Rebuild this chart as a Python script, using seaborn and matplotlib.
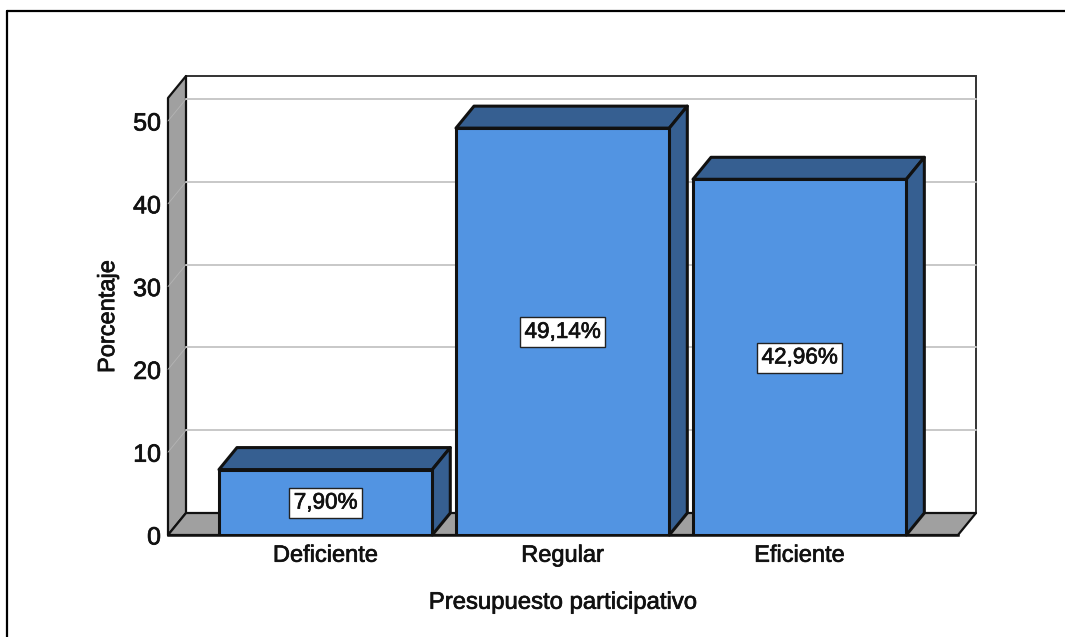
import seaborn as sns
import matplotlib.pyplot as plt
import matplotlib.patheffects as pe
import pandas as pd
from matplotlib.patches import Polygon, Rectangle

categories = ['Deficiente', 'Regular', 'Eficiente']
percentages = [7.90, 49.14, 42.96]
bar_labels = ['7,90%', '49,14%', '42,96%']
y_ticks = [0, 10, 20, 30, 40, 50]

W, H = 1065, 637
FRONT = '#5294E2'
DARK = '#365F91'
WALL = '#A0A0A0'
GRID = '#C8C8C8'
EDGE = '#111111'

sns.set_style('white')
plt.rcParams['font.family'] = ['Liberation Sans', 'DejaVu Sans']

df = pd.DataFrame({'cat': categories, 'pct': percentages})

# the reference text looks slightly heavy from scaling, a thin stroke gets close
heavy = [pe.withStroke(linewidth=0.5, foreground='#111111')]

fig = plt.figure(figsize=(W / 100, H / 100), dpi=100)
# front plane of the SPSS style box
left, right, bottom, top = 168, 958, 535, 98
ax = fig.add_axes([left / W, 1 - bottom / H, (right - left) / W, (bottom - top) / H])

sns.barplot(data=df, x='cat', y='pct', color=FRONT, saturation=1, width=0.9,
            edgecolor=EDGE, linewidth=2.2, ax=ax, zorder=5)
ax.set_xlim(-0.665, 2.668)
ax.set_ylim(0, 52.78)

# depth of the box in data units
dx = 18 / (right - left) * (ax.get_xlim()[1] - ax.get_xlim()[0])
dy = 22 / (bottom - top) * ax.get_ylim()[1]
x0, x1 = ax.get_xlim()
ymax = ax.get_ylim()[1]


def poly(pts, fc, ec=EDGE, lw=1.6, z=2):
    ax.add_patch(Polygon(pts, closed=True, facecolor=fc, edgecolor=ec, linewidth=lw,
                         zorder=z, clip_on=False, joinstyle='round'))


# back wall, left wall, floor
ax.add_patch(Rectangle((x0 + dx, dy), x1 - x0, ymax, facecolor='white', edgecolor='#333333',
                       linewidth=1.4, zorder=1, clip_on=False))
poly([(x0, 0), (x0 + dx, dy), (x0 + dx, ymax + dy), (x0, ymax)], WALL, z=2)
poly([(x0, 0), (x1, 0), (x1 + dx, dy), (x0 + dx, dy)], WALL, z=2)

# gridlines on the back wall and the left wall
for v in y_ticks[1:]:
    ax.plot([x0 + dx, x1 + dx], [v + dy, v + dy], color=GRID, lw=1.4, zorder=3, clip_on=False)
    ax.plot([x0, x0 + dx], [v, v + dy], color='#B4B4B4', lw=0.6, zorder=3, clip_on=False)

# top and side of each bar
for bar, lab in zip(ax.patches, bar_labels):
    xa, w, h = bar.get_x(), bar.get_width(), bar.get_height()
    poly([(xa, h), (xa + w, h), (xa + w + dx, h + dy), (xa + dx, h + dy)], DARK, lw=2.2, z=4)
    poly([(xa + w, 0), (xa + w + dx, dy), (xa + w + dx, h + dy), (xa + w, h)], DARK, lw=2.2, z=4)
    ax.text(xa + w / 2, h / 2 - 0.1, lab, ha='center', va='center', fontsize=16.2, color='#111111', zorder=6,
            path_effects=heavy,
            bbox=dict(boxstyle='square,pad=0.2', facecolor='white', edgecolor='#222222', linewidth=1))

ax.set_yticks(y_ticks)
ax.set_xlabel('Presupuesto participativo', fontsize=17.2, labelpad=18, color='#111111', path_effects=heavy)
ax.set_ylabel('Porcentaje', fontsize=17, labelpad=10, color='#111111', path_effects=heavy)
ax.tick_params(axis='x', length=0, pad=7, labelsize=17, labelcolor='#111111')
ax.tick_params(axis='y', length=0, pad=5, labelsize=18, labelcolor='#111111')
for t in ax.get_xticklabels() + ax.get_yticklabels():
    t.set_path_effects(heavy)
ax.spines[['top', 'right', 'left']].set_visible(False)
ax.spines['bottom'].set_color(EDGE)
ax.spines['bottom'].set_linewidth(1.8)
ax.spines['bottom'].set_zorder(7)
ax.patch.set_alpha(0)

# picture frame: only top and left edges are visible
fig.add_artist(plt.Line2D([6.5 / W, 6.5 / W], [0, 1 - 10.5 / H], color='black', lw=1.6))
fig.add_artist(plt.Line2D([6.5 / W, 1], [1 - 10.5 / H, 1 - 10.5 / H], color='black', lw=1.6))

fig.savefig('out.png', dpi=100)
